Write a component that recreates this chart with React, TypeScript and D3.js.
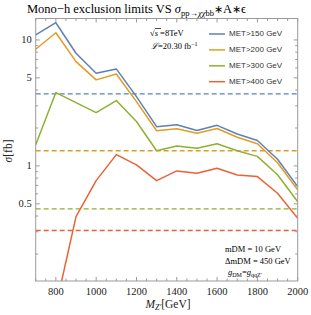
import React from "react";
import * as d3 from "d3";

// Z' mass points (GeV)
const masses = [700, 800, 900, 1000, 1100, 1200, 1300, 1400, 1500, 1600, 1700, 1800, 1900, 2000];
const met150 = [10.96, 13.7, 7.84, 5.44, 5.89, 3.55, 2.05, 2.12, 1.91, 2.1, 1.79, 1.59, 1.13, 0.685];
const met200 = [8.44, 11.4, 6.73, 4.82, 5.37, 3.24, 1.9, 1.97, 1.82, 1.98, 1.69, 1.5, 1.06, 0.645];
const met300 = [1.47, 3.82, 3.18, 2.65, 3.3, 2.25, 1.32, 1.44, 1.38, 1.5, 1.32, 1.19, 0.85, 0.52];
const met400 = [null, 0.076, 0.396, 0.764, 1.23, 1.02, 0.764, 0.913, 0.875, 0.958, 0.848, 0.823, 0.607, 0.384];
// exclusion limits (dashed)
const limits = [3.73, 1.32, 0.456, 0.307];
const seriesNames = ["MET>150 GeV", "MET>200 GeV", "MET>300 GeV", "MET>400 GeV"];
const colors = ["#5E81B5", "#E19C24", "#8FB032", "#EB6235"];

const xMajor = [800, 1000, 1200, 1400, 1600, 1800, 2000];
const yMajor = [0.5, 1, 5, 10];
const yMajorLabels = ["0.5", "1", "5", "10"];

export default function App() {
  const W = 311, H = 315;
  const left = 35.7, right = 297.7, top = 18.5, bottom = 281;
  const x = d3.scaleLinear().domain([700, 2000]).range([left, right]);
  const y = d3.scaleLog().domain([0.122, 14.8]).range([bottom, top]);

  const xMinor = d3.range(700, 2001, 50).filter((v) => !xMajor.includes(v));
  const yMinor: number[] = [];
  [0.1, 1, 10].forEach((d) => {
    for (let k = 1; k <= 9; k++) {
      const v = d * k;
      if (v >= 0.122 && v <= 14.8 && !yMajor.some((m) => Math.abs(m - v) < 1e-9)) yMinor.push(v);
    }
  });

  const all = [met150, met200, met300, met400];
  const line = d3
    .line<[number, number | null]>()
    .defined((d) => d[1] != null)
    .x((d) => x(d[0]))
    .y((d) => y(d[1] as number));

  const frame = "#9a9a9a";
  const serif = "'Liberation Serif', 'Times New Roman', serif";
  const sans = "'Liberation Sans', Arial, sans-serif";

  return (
    <div style={{ position: "absolute", left: 0, top: 0 }}>
      <svg width={W} height={H} style={{ display: "block", background: "#fff" }}>
        <defs>
          <clipPath id="plot">
            <rect x={left} y={top} width={right - left} height={bottom - top} />
          </clipPath>
        </defs>

        {/* title */}
        <text x={27} y={13} fontFamily={serif} fontSize={12.5} fill="#000">
          Mono−h exclusion limits VS <tspan fontStyle="italic">σ</tspan>
          <tspan fontSize={8.5} dy={3}>pp→<tspan fontStyle="italic">χχ</tspan>bb</tspan>
          <tspan dy={-3} fontSize={10.5}>∗</tspan><tspan>A</tspan><tspan fontSize={10.5}>∗</tspan><tspan>ϵ</tspan>
        </text>

        {/* dashed limits */}
        <g clipPath="url(#plot)">
          {limits.map((v, i) => (
            <line key={"l" + i} x1={left} x2={right} y1={y(v)} y2={y(v)} stroke={colors[i]} strokeWidth={1.4} strokeDasharray="5,3" />
          ))}
          {all.map((s, i) => (
            <path key={"s" + i} d={line(masses.map((m, j) => [m, s[j]]) as [number, number | null][]) || ""} fill="none" stroke={colors[i]} strokeWidth={1.5} strokeLinejoin="round" />
          ))}
        </g>

        {/* frame */}
        <rect x={left} y={top} width={right - left} height={bottom - top} fill="none" stroke={frame} strokeWidth={1} />
        {xMajor.map((v) => (
          <g key={"xm" + v}>
            <line x1={x(v)} x2={x(v)} y1={bottom} y2={bottom - 4} stroke={frame} />
            <line x1={x(v)} x2={x(v)} y1={top} y2={top + 4} stroke={frame} />
            <text x={x(v)} y={bottom + 14} textAnchor="middle" fontFamily={serif} fontSize={10.5} fill="#222">{v}</text>
          </g>
        ))}
        {xMinor.map((v) => (
          <g key={"xn" + v}>
            <line x1={x(v)} x2={x(v)} y1={bottom} y2={bottom - 2.5} stroke={frame} />
            <line x1={x(v)} x2={x(v)} y1={top} y2={top + 2.5} stroke={frame} />
          </g>
        ))}
        {yMajor.map((v, i) => (
          <g key={"ym" + v}>
            <line x1={left} x2={left + 4} y1={y(v)} y2={y(v)} stroke={frame} />
            <line x1={right} x2={right - 4} y1={y(v)} y2={y(v)} stroke={frame} />
            <text x={left - 4} y={y(v) + 3.5} textAnchor="end" fontFamily={serif} fontSize={10.5} fill="#222">{yMajorLabels[i]}</text>
          </g>
        ))}
        {yMinor.map((v) => (
          <g key={"yn" + v}>
            <line x1={left} x2={left + 2.5} y1={y(v)} y2={y(v)} stroke={frame} />
            <line x1={right} x2={right - 2.5} y1={y(v)} y2={y(v)} stroke={frame} />
          </g>
        ))}

        {/* axis labels */}
        <text x={168} y={308} textAnchor="middle" fontFamily={serif} fontSize={11.5} fill="#222">
          <tspan fontStyle="italic">M</tspan>
          <tspan fontSize={8} dy={2} fontStyle="italic">Z'</tspan>
          <tspan dy={-2}>[GeV]</tspan>
        </text>
        <text transform="translate(12,151) rotate(-90)" textAnchor="middle" fontFamily={serif} fontSize={11.5} fill="#222">
          <tspan fontStyle="italic">σ</tspan>[fb]
        </text>

        {/* legend */}
        {seriesNames.map((n, i) => (
          <g key={"lg" + i}>
            <line x1={209} x2={225} y1={34 + i * 15.9} y2={34 + i * 15.9} stroke={colors[i]} strokeWidth={1.5} />
            <text x={229} y={34 + i * 15.9} dominantBaseline="middle" fontFamily={sans} fontSize={8} fill="#333">{n}</text>
          </g>
        ))}

        {/* annotations */}
        <text x={150} y={36} fontFamily={serif} fontSize={8.5} fill="#000">
          √<tspan fontStyle="italic">s</tspan> =8TeV
        </text>
        <line x1={155} x2={161} y1={28.5} y2={28.5} stroke="#000" strokeWidth={0.7} />
        <text x={151} y={49} fontFamily={serif} fontSize={8.5} fill="#000">
          <tspan fontStyle="italic">ℒ</tspan>=20.30 fb<tspan fontSize={6} dy={-3}>−1</tspan>
        </text>
        <text x={225} y={252} fontFamily={serif} fontSize={8.5} fill="#000">mDM = 10 GeV</text>
        <text x={225} y={264} fontFamily={serif} fontSize={8.5} fill="#000">ΔmDM = 450 GeV</text>
        <text x={228} y={275} fontFamily={serif} fontSize={8.5} fill="#000">
          <tspan fontStyle="italic">g</tspan><tspan fontSize={6} dy={1.5}>DM</tspan>
          <tspan dy={-1.5}>=</tspan><tspan fontStyle="italic">g</tspan><tspan fontSize={6} dy={1.5}>qqZ'</tspan>
        </text>
      </svg>
    </div>
  );
}
